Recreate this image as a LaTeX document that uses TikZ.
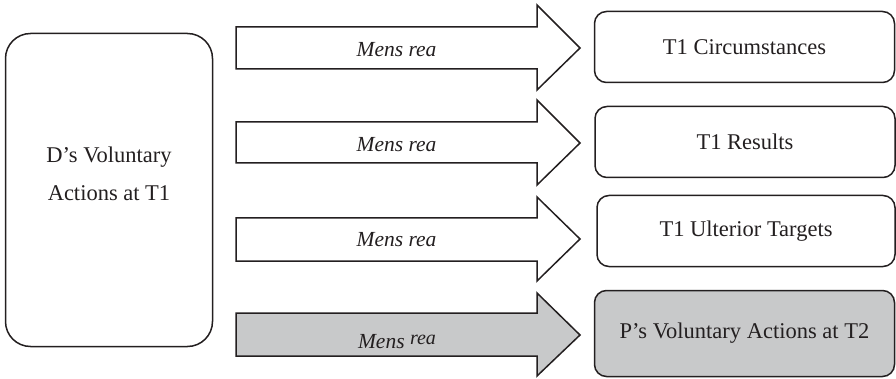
\documentclass[tikz,border=0pt]{standalone}
\usepackage{fontspec}
\setmainfont{Liberation Serif}
\definecolor{ink}{RGB}{35,31,32}
\definecolor{shade}{RGB}{200,201,202}
\tikzstyle{every node}=[text=ink]
\tikzstyle{bigbox}=[draw=ink, rounded corners=25pt, minimum width=207pt, minimum height=313pt]
\tikzstyle{goalbox}=[draw=ink, rounded corners=12pt, minimum width=300pt, minimum height=71pt, font=\fontsize{22.5}{26}\selectfont]
\tikzstyle{blockarrow}=[draw=ink, line join=miter]
\tikzstyle{arrowlabel}=[anchor=base, inner sep=0pt, font=\fontsize{21.5}{24}\selectfont\itshape]

\begin{document}
\begin{tikzpicture}[x=1pt, y=-1pt, line width=1.5pt]
\useasboundingbox (0,0) rectangle (896,379);
% Actor at T1
    \node[bigbox] (dbox) at (109,190) {};
    \node[font=\fontsize{22.5}{38}\selectfont, align=center] (dtext) at (109,174) {D’s Voluntary\\Actions at T1};
% Targets
    \node[goalbox] (circ) at (744.5,47) {T1 Circumstances};
    \node[goalbox] (res) at (745,142) {T1 Results};
    \node[goalbox, minimum width=298pt] (ult) at (746,231) {T1 Ulterior Targets};
    \node[goalbox, fill=shade, minimum height=86pt] (pact) at (744.5,333.5) {P’s Voluntary Actions at T2};
% Mens rea arrows
    \draw[blockarrow] (236,27) -- (537,27) -- (537,5) -- (580,48) -- (537,90) -- (537,69) -- (236,69) -- cycle;
    \draw[blockarrow] (236,122) -- (537,122) -- (537,100) -- (580,143) -- (537,185) -- (537,163) -- (236,163) -- cycle;
    \draw[blockarrow] (236,218) -- (537,218) -- (537,197) -- (580,239) -- (537,281) -- (537,261) -- (236,261) -- cycle;
    \draw[blockarrow, fill=shade] (236,313) -- (537,313) -- (537,293) -- (580,335) -- (537,376) -- (537,356) -- (236,356) -- cycle;
% Labels on the arrows
    \node[arrowlabel] (mr1) at (396.5,57) {Mens rea};
    \node[arrowlabel] (mr2) at (396.5,152) {Mens rea};
    \node[arrowlabel] (mr3) at (396.5,247) {Mens rea};
    \node[arrowlabel] (mr4) at (397,348) {Mens \raisebox{4pt}{\fontsize{20}{22}\selectfont rea}};
\end{tikzpicture}
\end{document}
